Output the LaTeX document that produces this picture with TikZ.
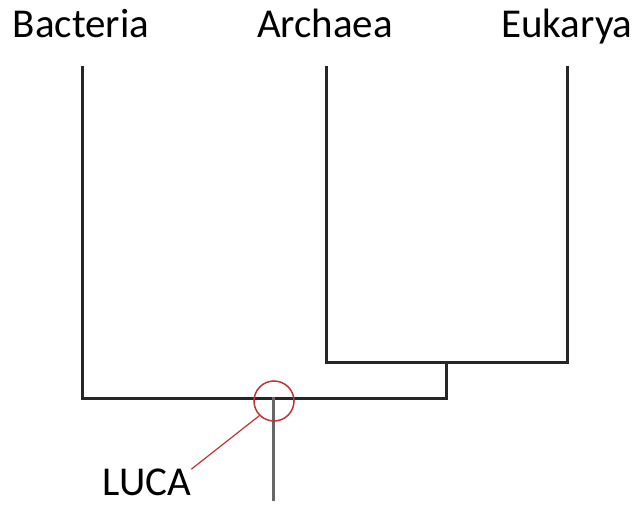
\documentclass[tikz,border=0pt]{standalone}
\usepackage{fontspec}
\setmainfont{Carlito}
\begin{document}
\begin{tikzpicture}[x=1pt,y=-1pt,
  taxon/.style={font=\fontsize{41}{45}\selectfont, inner sep=0pt, anchor=base},
  branch/.style={line width=3pt, draw=black!85, line cap=rect},
  marker/.style={draw=red!70!black!80, line width=1.5pt}]
\useasboundingbox (0,0) rectangle (641,505);
% domain labels
\node[taxon] (bac) at (81,38) {Bacteria};
\node[taxon] (arc) at (325,38) {Archaea};
\node[taxon] (euk) at (567,38) {Eukarya};
% tree points
\coordinate (bacTop) at (82,68);
\coordinate (bacBot) at (82,399);
\coordinate (arcTop) at (326,68);
\coordinate (arcBot) at (326,363);
\coordinate (eukTop) at (567,68);
\coordinate (eukBot) at (567,363);
\coordinate (aeJoin) at (446,363);
\coordinate (aeBase) at (446,399);
\coordinate (root) at (273,399);
\coordinate (rootEnd) at (273,500);
% branches
\draw[branch] (bacTop) -- (bacBot) -- (aeBase) -- (aeJoin);
\draw[branch] (arcTop) -- (arcBot) -- (eukBot) -- (eukTop);
\draw[branch, draw=black!60] (root) -- (rootEnd);
% LUCA marker
\node[marker, circle, minimum size=40pt, inner sep=0pt] (luca) at (274,401) {};
\node[taxon, text depth=0pt] (lucaLbl) at (147,496) {LUCA};
\draw[marker, line width=1.2pt] (luca.225) -- (lucaLbl.north east);
\end{tikzpicture}
\end{document}
